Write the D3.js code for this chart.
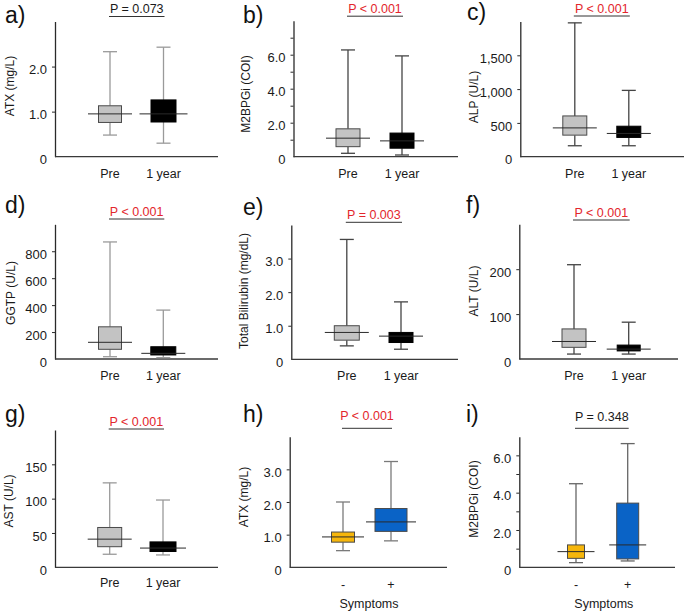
<!DOCTYPE html>
<html>
<head>
<meta charset="utf-8">
<script src="https://cdn.jsdelivr.net/npm/d3@7"></script>
<style>
  html, body { margin: 0; padding: 0; background: #fff; }
  svg { display: block; font-family: "Liberation Sans", Arial, sans-serif; }
</style>
</head>
<body>
<svg id="chart" width="685" height="613"></svg>
<script>
// ---------------- data ----------------
const panelLetters = ["a)", "b)", "c)", "d)", "e)", "f)", "g)", "h)", "i)"];
const yAxisTitles = ["ATX (mg/L)", "M2BPGi (COI)", "ALP (U/L)", "GGTP (U/L)", "Total Bilirubin (mg/dL)", "ALT (U/L)", "AST (U/L)", "ATX (mg/L)", "M2BPGi (COI)"];
const pValueTexts = ["P = 0.073", "P < 0.001", "P < 0.001", "P < 0.001", "P = 0.003", "P < 0.001", "P < 0.001", "P < 0.001", "P = 0.348"];
const groupsPrePost = ["Pre", "1 year"];
const groupsSymptoms = ["-", "+"];
const xAxisTitleSymptoms = "Symptoms";

// box stats per group: [min, q1, median, q3, max]
const atxStats        = [[0.48, 0.76, 0.95, 1.13, 2.33], [0.30, 0.77, 0.95, 1.26, 2.43]];
const m2bpgiStats     = [[0.20, 0.59, 1.09, 1.64, 6.28], [0.10, 0.50, 0.93, 1.39, 5.93]];
const alpStats        = [[162, 319, 426, 603, 1980], [162, 285, 344, 451, 981]];
const ggtpStats       = [[17, 72, 124, 239, 869], [10, 30, 42, 91, 363]];
const tbilStats       = [[0.40, 0.57, 0.80, 1.00, 3.57], [0.30, 0.50, 0.69, 0.80, 1.71]];
const altStats        = [[11, 26, 39, 67, 210], [11, 18, 22, 31, 82]];
const astStats        = [[19, 30, 41, 58, 123], [18, 23, 28, 37, 98]];
const atxSympStats    = [[0.51, 0.77, 0.93, 1.08, 2.00], [0.81, 1.10, 1.39, 1.80, 3.24]];
const m2bpgiSympStats = [[0.25, 0.48, 0.84, 1.20, 4.48], [0.34, 0.45, 1.20, 3.44, 6.63]];

// y axis: domain max, tick values and tick labels
const yMaxValues = [3, 8, 2000, 1000, 4, 300, 200, 4, 7];
const atxTicks = [0, 1, 2];            const atxTickLabels = ["0", "1.0", "2.0"];
const m2bpgiTicks = [0, 1, 2, 3, 4, 5, 6, 7]; const m2bpgiTickLabels = ["0", "", "2.0", "", "4.0", "", "6.0", ""];
const alpTicks = [0, 500, 1000, 1500]; const alpTickLabels = ["0", "500", "1,000", "1,500"];
const ggtpTicks = [0, 200, 400, 600, 800]; const ggtpTickLabels = ["0", "200", "400", "600", "800"];
const tbilTicks = [0, 1, 2, 3];        const tbilTickLabels = ["0", "1.0", "2.0", "3.0"];
const altTicks = [0, 100, 200];        const altTickLabels = ["0", "100", "200"];
const astTicks = [0, 50, 100, 150];    const astTickLabels = ["0", "50", "100", "150"];
const atxSympTicks = [0, 1, 2, 3];     const atxSympTickLabels = ["0", "1.0", "2.0", "3.0"];
const m2bpgiSympTicks = [0, 1, 2, 3, 4, 5, 6]; const m2bpgiSympTickLabels = ["0", "", "2.0", "", "4.0", "", "6.0"];

// ---------------- assemble ----------------
const statsList = [atxStats, m2bpgiStats, alpStats, ggtpStats, tbilStats, altStats, astStats, atxSympStats, m2bpgiSympStats];
const tickList = [atxTicks, m2bpgiTicks, alpTicks, ggtpTicks, tbilTicks, altTicks, astTicks, atxSympTicks, m2bpgiSympTicks];
const tickLabelList = [atxTickLabels, m2bpgiTickLabels, alpTickLabels, ggtpTickLabels, tbilTickLabels, altTickLabels, astTickLabels, atxSympTickLabels, m2bpgiSympTickLabels];
const groupList = [groupsPrePost, groupsPrePost, groupsPrePost, groupsPrePost, groupsPrePost, groupsPrePost, groupsPrePost, groupsSymptoms, groupsSymptoms];

// layout (pixel geometry, kept in code)
const layout = [
  {ax: 55,    top: 21.5,  bot: 156.7, xEnd: 218, c: [55, 108.5],  bw: [23, 25], mw: [44, 48], whisk: "#9a9a9a", letterX: 5,   letterY: 23,  ylx: 10,  yly: 86,  pBar: 16.5, pGap: 3.5, catY: 177.5},
  {ax: 293.5, top: 20.7,  bot: 156.7, xEnd: 458, c: [54.5, 108.5], bw: [24, 24], mw: [44, 44], whisk: "#444",    letterX: 243, letterY: 23,  ylx: 246, yly: 94,  pBar: 16.2, pGap: 3.5, catY: 177.5},
  {ax: 520.3, top: 21.5,  bot: 156.7, xEnd: 684, c: [54.5, 108.5], bw: [24, 24], mw: [44, 44], whisk: "#444",    letterX: 467, letterY: 20,  ylx: 473.5, yly: 97, pBar: 16, pGap: 3.5, catY: 177.5},
  {ax: 55,    top: 224.3, bot: 359,   xEnd: 218, c: [55, 108.3],  bw: [23, 25], mw: [44, 44], whisk: "#9a9a9a", letterX: 5,   letterY: 213, ylx: 11,  yly: 293, pBar: 219, pGap: 3.5, catY: 379.5},
  {ax: 291.3, top: 225,   bot: 359.3, xEnd: 458, c: [55.5, 109.7], bw: [25, 24], mw: [44, 44], whisk: "#444",    letterX: 243, letterY: 215, ylx: 244, yly: 291, pBar: 222.3, pGap: 3.8, catY: 379.5},
  {ax: 519.3, top: 224.3, bot: 359,   xEnd: 678, c: [54.7, 109.4], bw: [24, 23], mw: [44, 44], whisk: "#444",    letterX: 466, letterY: 213, ylx: 473.5, yly: 291, pBar: 220, pGap: 3.5, catY: 379.5},
  {ax: 55,    top: 430,   bot: 567.3, xEnd: 218, c: [54.7, 108],  bw: [24, 26], mw: [44, 46], whisk: "#9a9a9a", letterX: 5,   letterY: 422, ylx: 8.5, yly: 501, pBar: 429, pGap: 3.5, catY: 587},
  {ax: 289.7, top: 436.7, bot: 567.3, xEnd: 447, c: [53.3, 101.3], bw: [23, 32], mw: [42, 50], whisk: "#7a7a7a", letterX: 243, letterY: 422, ylx: 244, yly: 497, pBar: 428.3, pGap: 8, catY: 589},
  {ax: 519.3, top: 436.7, bot: 567.3, xEnd: 675, c: [56.7, 108.4], bw: [17, 22], mw: [37, 37], whisk: "#666",    letterX: 466, letterY: 422, ylx: 473.5, yly: 499, pBar: 428.3, pGap: 7, catY: 589}
];
const groupFills = [
  ["#c3c3c3", "#000000"], ["#c3c3c3", "#000000"], ["#c3c3c3", "#000000"],
  ["#c3c3c3", "#000000"], ["#c3c3c3", "#000000"], ["#c3c3c3", "#000000"],
  ["#c3c3c3", "#000000"], ["#f6b60b", "#0a63c6"], ["#f6b60b", "#0a63c6"]
];
const FONT = "'Liberation Sans', Arial, sans-serif";
const svg = d3.select("#chart");

function isSignificant(t) {
  if (t.includes("<")) return true;
  const v = parseFloat(t.split("=")[1]);
  return v < 0.05;
}

layout.forEach((L, i) => {
  const g = svg.append("g");
  const stats = statsList[i];
  const groups = groupList[i];

  const y = d3.scaleLinear().domain([0, yMaxValues[i]]).range([L.bot, L.top]);
  const x = d3.scaleOrdinal().domain(groups).range([L.ax + L.c[0], L.ax + L.c[1]]);

  // y axis
  const labels = tickLabelList[i];
  const yAxis = d3.axisLeft(y)
    .tickValues(tickList[i])
    .tickFormat((d, k) => labels[k])
    .tickSize(3).tickSizeOuter(0).tickPadding(5);
  const ya = g.append("g").attr("transform", `translate(${L.ax},0)`).call(yAxis);
  ya.select(".domain").attr("stroke", "#2a2a2a").attr("stroke-width", 1.3);
  ya.selectAll(".tick line").attr("stroke", "#2a2a2a").attr("stroke-width", 1);
  ya.selectAll(".tick text")
    .attr("font-family", FONT).attr("font-size", 13).attr("fill", "#1a1a1a")
    .attr("dy", "0.55em");
  ya.selectAll(".tick").filter(d => d === 0).select("line").remove();

  // x axis baseline
  g.append("line")
    .attr("x1", L.ax).attr("x2", L.xEnd)
    .attr("y1", L.bot).attr("y2", L.bot)
    .attr("stroke", "#3a3a3a").attr("stroke-width", 1.3);

  // category labels
  groups.forEach(gr => {
    g.append("text").attr("x", x(gr)).attr("y", L.catY)
      .attr("text-anchor", "middle").attr("font-family", FONT)
      .attr("font-size", 12.5).attr("fill", "#1a1a1a").text(gr);
  });
  if (groups === groupsSymptoms) {
    g.append("text").attr("x", (x(groups[0]) + x(groups[1])) / 2 + 2).attr("y", L.catY + 18.5)
      .attr("text-anchor", "middle").attr("font-family", FONT)
      .attr("font-size", 12.5).attr("fill", "#1a1a1a").text(xAxisTitleSymptoms);
  }

  // boxes
  groups.forEach((gr, k) => {
    const s = stats[k];
    const cx = x(gr);
    const bw = L.bw[k], mw = L.mw[k], cap = 14;
    const fill = groupFills[i][k];
    const boxStroke = fill === "#000000" ? "#000" : "#4a4a4a";
    g.append("line").attr("x1", cx).attr("x2", cx).attr("y1", y(s[0])).attr("y2", y(s[1]))
      .attr("stroke", L.whisk).attr("stroke-width", 1.3);
    g.append("line").attr("x1", cx).attr("x2", cx).attr("y1", y(s[3])).attr("y2", y(s[4]))
      .attr("stroke", L.whisk).attr("stroke-width", 1.3);
    [s[0], s[4]].forEach(v => {
      g.append("line").attr("x1", cx - cap / 2).attr("x2", cx + cap / 2)
        .attr("y1", y(v)).attr("y2", y(v))
        .attr("stroke", L.whisk).attr("stroke-width", 1.3);
    });
    g.append("rect").attr("x", cx - bw / 2).attr("width", bw)
      .attr("y", y(s[3])).attr("height", y(s[1]) - y(s[3]))
      .attr("fill", fill).attr("stroke", boxStroke).attr("stroke-width", 1);
    g.append("line").attr("x1", cx - mw / 2).attr("x2", cx + mw / 2)
      .attr("y1", y(s[2])).attr("y2", y(s[2]))
      .attr("stroke", "#2a2a2a").attr("stroke-width", 1);
  });

  // significance bar + text
  const x1 = x(groups[0]) - 1, x2 = x(groups[1]) + 1;
  g.append("line").attr("x1", x1).attr("x2", x2).attr("y1", L.pBar).attr("y2", L.pBar)
    .attr("stroke", "#333").attr("stroke-width", 1);
  g.append("text").attr("x", (x1 + x2) / 2).attr("y", L.pBar - L.pGap)
    .attr("text-anchor", "middle").attr("font-family", FONT).attr("font-size", 12.5)
    .attr("fill", isSignificant(pValueTexts[i]) ? "#e3262c" : "#1a1a1a")
    .text(pValueTexts[i]);

  // y axis title
  g.append("text")
    .attr("transform", `translate(${L.ylx},${L.yly}) rotate(-90)`)
    .attr("text-anchor", "middle").attr("dominant-baseline", "central")
    .attr("font-family", FONT).attr("font-size", 12).attr("fill", "#1a1a1a")
    .text(yAxisTitles[i]);

  // panel letter
  g.append("text").attr("x", L.letterX).attr("y", L.letterY)
    .attr("font-family", FONT).attr("font-size", 23).attr("fill", "#111")
    .text(panelLetters[i]);
});
</script>
</body>
</html>
